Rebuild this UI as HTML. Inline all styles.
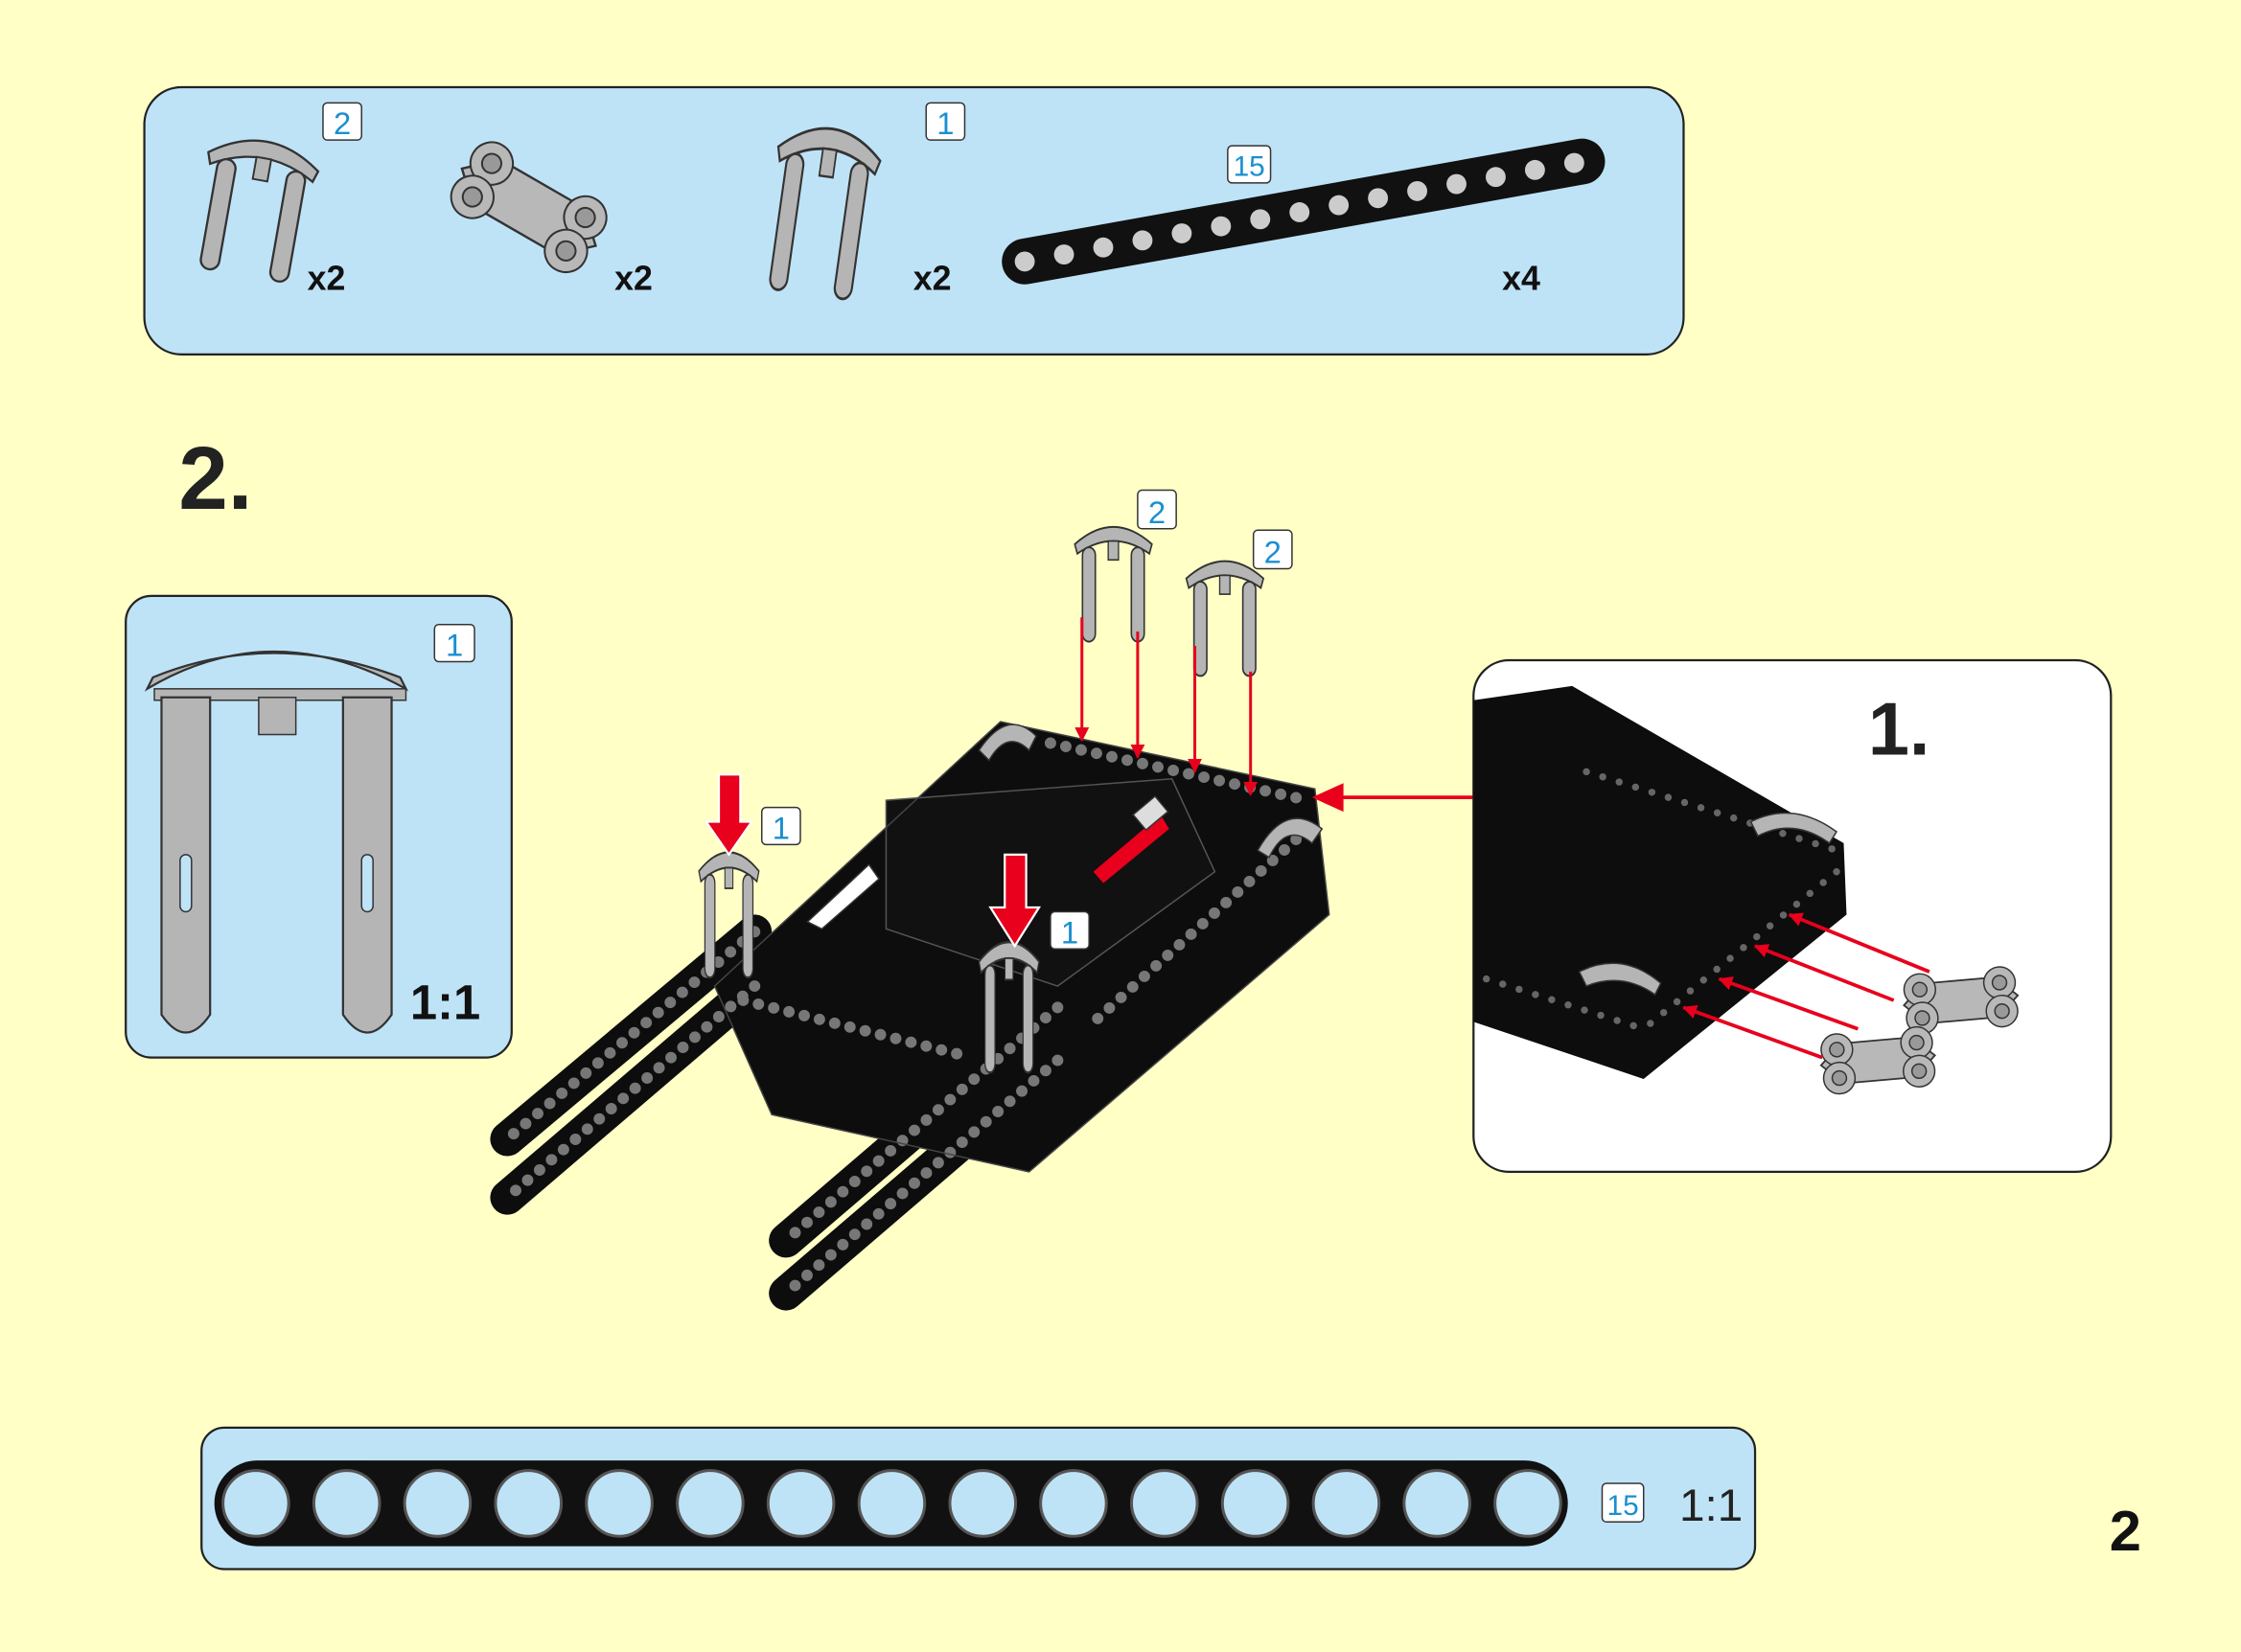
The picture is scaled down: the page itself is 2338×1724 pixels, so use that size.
<!DOCTYPE html>
<html><head><meta charset="utf-8"><style>
html,body{margin:0;padding:0;background:#ffffc6;}
svg{display:block}
text{font-family:"Liberation Sans",sans-serif}
</style></head><body>
<svg width="2338" height="1724" viewBox="0 0 1568 1156" preserveAspectRatio="none" xmlns="http://www.w3.org/2000/svg">
<defs>
<g id="pin">
  <path d="M-30,8 Q0,-14 30,8 L28,14 Q0,-2 -28,14 Z" fill="#b5b5b5" stroke="#333" stroke-width="1.2"/>
  <rect x="-24" y="10" width="10" height="60" rx="5" fill="#b5b5b5" stroke="#333" stroke-width="1.2"/>
  <rect x="14" y="10" width="10" height="60" rx="5" fill="#b5b5b5" stroke="#333" stroke-width="1.2"/>
  <rect x="-4" y="6" width="8" height="12" fill="#b5b5b5" stroke="#333" stroke-width="1"/>
</g>
<g id="conn">
  <path d="M-40,0 L-25,-14 L25,-14 L40,0 L25,14 L-25,14 Z" fill="#b8b8b8" stroke="#333" stroke-width="1.2"/>
  <circle cx="-28" cy="-10" r="11" fill="#b8b8b8" stroke="#333"/>
  <circle cx="28" cy="-10" r="11" fill="#b8b8b8" stroke="#333"/>
  <circle cx="-28" cy="10" r="11" fill="#b8b8b8" stroke="#333"/>
  <circle cx="28" cy="10" r="11" fill="#b8b8b8" stroke="#333"/>
  <circle cx="-28" cy="-10" r="5" fill="#999" stroke="#333"/>
  <circle cx="28" cy="-10" r="5" fill="#999" stroke="#333"/>
  <circle cx="-28" cy="10" r="5" fill="#999" stroke="#333"/>
  <circle cx="28" cy="10" r="5" fill="#999" stroke="#333"/>
</g>
<marker id="ah" markerWidth="10" markerHeight="10" refX="9" refY="5" orient="auto" markerUnits="userSpaceOnUse"><path d="M0,0 L10,5 L0,10 Z" fill="#e8001c"/></marker>
</defs>

<!-- Top panel -->
<rect x="101" y="61" width="1077" height="187" rx="26" fill="#bfe3f6" stroke="#222" stroke-width="1.5"/>
<g transform="translate(186,103) rotate(10) scale(1.3)"><use href="#pin"/></g>
<g transform="translate(370,145) rotate(30) scale(1.35)"><use href="#conn"/></g>
<g transform="translate(582,95) rotate(8) scale(1.2,1.6)"><use href="#pin"/></g>
<line x1="717" y1="183" x2="1107" y2="113" stroke="#111" stroke-width="32" stroke-linecap="round"/>
<line x1="717" y1="183" x2="1107" y2="113" stroke="#ccc" stroke-width="14" stroke-linecap="round" stroke-dasharray="0 27.9"/>
<rect x="226" y="72" width="27" height="26" rx="3" fill="#fff" stroke="#333"/><text x="239.5" y="94" font-size="22" fill="#1a8fd0" text-anchor="middle">2</text>
<rect x="648" y="72" width="27" height="26" rx="3" fill="#fff" stroke="#333"/><text x="661.5" y="94" font-size="22" fill="#1a8fd0" text-anchor="middle">1</text>
<rect x="859" y="102" width="30" height="26" rx="3" fill="#fff" stroke="#333"/><text x="874" y="123" font-size="20" fill="#1a8fd0" text-anchor="middle">15</text>
<g font-size="24" font-weight="bold" fill="#111">
<text x="215" y="203">x2</text><text x="430" y="203">x2</text><text x="639" y="203">x2</text><text x="1051" y="203">x4</text>
</g>

<text x="125" y="356" font-size="62" font-weight="bold" fill="#222">2.</text>

<!-- Left panel -->
<rect x="88" y="417" width="270" height="323" rx="18" fill="#bfe3f6" stroke="#222" stroke-width="1.5"/>
<path d="M103,482 Q190,430 284,482 L280,474 Q190,440 107,474 Z" fill="#b5b5b5" stroke="#333" stroke-width="1.5"/>
<rect x="108" y="482" width="176" height="8" fill="#b5b5b5" stroke="#333"/>
<rect x="181" y="488" width="26" height="26" fill="#b5b5b5" stroke="#333"/>
<path d="M113,488 L147,488 L147,710 Q130,735 113,710 Z" fill="#b5b5b5" stroke="#333" stroke-width="1.5"/>
<path d="M240,488 L274,488 L274,710 Q257,735 240,710 Z" fill="#b5b5b5" stroke="#333" stroke-width="1.5"/>
<rect x="126" y="598" width="8" height="40" rx="4" fill="#bfe3f6" stroke="#333"/>
<rect x="253" y="598" width="8" height="40" rx="4" fill="#bfe3f6" stroke="#333"/>
<rect x="304" y="437" width="28" height="26" rx="3" fill="#fff" stroke="#333"/><text x="318" y="459" font-size="22" fill="#1a8fd0" text-anchor="middle">1</text>
<text x="287" y="713" font-size="34" font-weight="bold" fill="#111">1:1</text>

<!-- Main assembly -->
<g>
<path d="M700,505 L920,552 L930,640 L790,760 L720,820 L540,780 L500,690 Z" fill="#0d0d0d"/>
<path d="M620,560 L820,545 L850,610 L740,690 L620,650 Z" fill="#111" stroke="#555" stroke-width="1"/>
<line x1="528" y1="652" x2="355" y2="797" stroke="#0d0d0d" stroke-width="24" stroke-linecap="round"/>
<line x1="528" y1="690" x2="355" y2="838" stroke="#0d0d0d" stroke-width="24" stroke-linecap="round"/>
<line x1="740" y1="705" x2="550" y2="868" stroke="#0d0d0d" stroke-width="24" stroke-linecap="round"/>
<line x1="740" y1="742" x2="550" y2="905" stroke="#0d0d0d" stroke-width="24" stroke-linecap="round"/>
<g stroke="#777" stroke-width="8" stroke-linecap="round" stroke-dasharray="0 11" fill="none">
<line x1="528" y1="652" x2="355" y2="797"/><line x1="528" y1="690" x2="355" y2="838"/>
<line x1="740" y1="705" x2="550" y2="868"/><line x1="740" y1="742" x2="550" y2="905"/>
<line x1="735" y1="520" x2="915" y2="560"/><line x1="915" y1="580" x2="760" y2="720"/>
<line x1="520" y1="700" x2="680" y2="740"/>
</g>
<path d="M700,505 L920,552 L930,640 L790,760 L720,820 L540,780 L500,690 Z" fill="none" stroke="#444" stroke-width="1"/>
<path d="M685,525 Q705,495 725,515 L720,525 Q705,510 692,532 Z" fill="#b5b5b5" stroke="#333"/>
<path d="M880,595 Q900,560 925,580 L918,590 Q900,575 888,600 Z" fill="#b5b5b5" stroke="#333"/>
<path d="M765,610 L812,570 L818,580 L772,618 Z" fill="#e8001c"/>
<rect x="795" y="562" width="20" height="14" fill="#ddd" stroke="#333" transform="rotate(-40 805 569)"/>
<path d="M565,645 L608,605 L615,615 L575,650 Z" fill="#fff" stroke="#333"/>
<g transform="translate(510,600) scale(0.7,1.2)"><use href="#pin"/></g>
<g transform="translate(706,663) scale(0.7,1.25)"><use href="#pin"/></g>
<path d="M503,542 L518,542 L518,575 L526,575 L510,598 L494,575 L503,575 Z" fill="#e8001c" stroke="#fff" stroke-width="1.5"/>
<path d="M703,598 L718,598 L718,635 L727,635 L710,662 L693,635 L703,635 Z" fill="#e8001c" stroke="#fff" stroke-width="1.5"/>
<rect x="533" y="565" width="27" height="26" rx="3" fill="#fff" stroke="#333"/><text x="546.5" y="587" font-size="22" fill="#1a8fd0" text-anchor="middle">1</text>
<rect x="735" y="638" width="27" height="26" rx="3" fill="#fff" stroke="#333"/><text x="748.5" y="660" font-size="22" fill="#1a8fd0" text-anchor="middle">1</text>
</g>

<!-- pins above -->
<g transform="translate(779,372) scale(0.9,1.1)"><use href="#pin"/></g>
<g transform="translate(857,396) scale(0.9,1.1)"><use href="#pin"/></g>
<rect x="796" y="343" width="27" height="27" rx="3" fill="#fff" stroke="#333"/><text x="809.5" y="366" font-size="22" fill="#1a8fd0" text-anchor="middle">2</text>
<rect x="877" y="371" width="27" height="27" rx="3" fill="#fff" stroke="#333"/><text x="890.5" y="394" font-size="22" fill="#1a8fd0" text-anchor="middle">2</text>
<g stroke="#e8001c" stroke-width="2" marker-end="url(#ah)">
<line x1="757" y1="432" x2="757" y2="518"/><line x1="796" y1="442" x2="796" y2="530"/>
<line x1="836" y1="452" x2="836" y2="540"/><line x1="875" y1="470" x2="875" y2="556"/>
<line x1="1031" y1="558" x2="920" y2="558" stroke-width="2.5"/>
</g>
<path d="M918,558 L940,548 L940,568 Z" fill="#e8001c"/>

<!-- Right panel -->
<rect x="1031" y="462" width="446" height="358" rx="25" fill="#fff" stroke="#222" stroke-width="1.5"/>
<path d="M1031,490 L1100,480 L1290,590 L1292,640 L1150,755 L1031,715 Z" fill="#0d0d0d"/>
<g stroke="#666" stroke-width="5" stroke-linecap="round" stroke-dasharray="0 12" fill="none">
<line x1="1110" y1="540" x2="1285" y2="595"/><line x1="1285" y1="610" x2="1150" y2="720"/><line x1="1040" y1="685" x2="1150" y2="720"/>
</g>
<path d="M1225,575 Q1255,560 1285,582 L1280,590 Q1255,572 1230,585 Z" fill="#b5b5b5" stroke="#333"/>
<path d="M1105,680 Q1135,665 1162,688 L1158,696 Q1135,680 1110,690 Z" fill="#b5b5b5" stroke="#333"/>
<text x="1307" y="528" font-size="52" font-weight="bold" fill="#222">1.</text>
<g transform="translate(1372,700) rotate(-5)"><use href="#conn"/></g>
<g transform="translate(1314,742) rotate(-5)"><use href="#conn"/></g>
<g stroke="#e8001c" stroke-width="2.5" marker-end="url(#ah)">
<line x1="1350" y1="680" x2="1252" y2="640"/><line x1="1325" y1="700" x2="1228" y2="662"/>
<line x1="1300" y1="720" x2="1203" y2="685"/><line x1="1275" y1="740" x2="1178" y2="705"/>
</g>

<!-- Bottom panel -->
<rect x="141" y="999" width="1087" height="99" rx="16" fill="#bfe3f6" stroke="#222" stroke-width="1.5"/>
<rect x="150" y="1022" width="947" height="60" rx="30" fill="#111"/>
<g fill="#bfe3f6" stroke="#555" stroke-width="2">
<circle cx="179" cy="1052" r="23"/><circle cx="242.6" cy="1052" r="23"/><circle cx="306.1" cy="1052" r="23"/><circle cx="369.7" cy="1052" r="23"/><circle cx="433.3" cy="1052" r="23"/><circle cx="496.9" cy="1052" r="23"/><circle cx="560.4" cy="1052" r="23"/><circle cx="624" cy="1052" r="23"/><circle cx="687.6" cy="1052" r="23"/><circle cx="751.1" cy="1052" r="23"/><circle cx="814.7" cy="1052" r="23"/><circle cx="878.3" cy="1052" r="23"/><circle cx="941.9" cy="1052" r="23"/><circle cx="1005.4" cy="1052" r="23"/><circle cx="1069" cy="1052" r="23"/>
</g>
<rect x="1121" y="1038" width="29" height="27" rx="3" fill="#fff" stroke="#333"/><text x="1135.5" y="1060" font-size="20" fill="#1a8fd0" text-anchor="middle">15</text>
<text x="1175" y="1064" font-size="32" fill="#222">1:1</text>

<text x="1476" y="1085" font-size="40" font-weight="bold" fill="#111">2</text>
</svg>
</body></html>
